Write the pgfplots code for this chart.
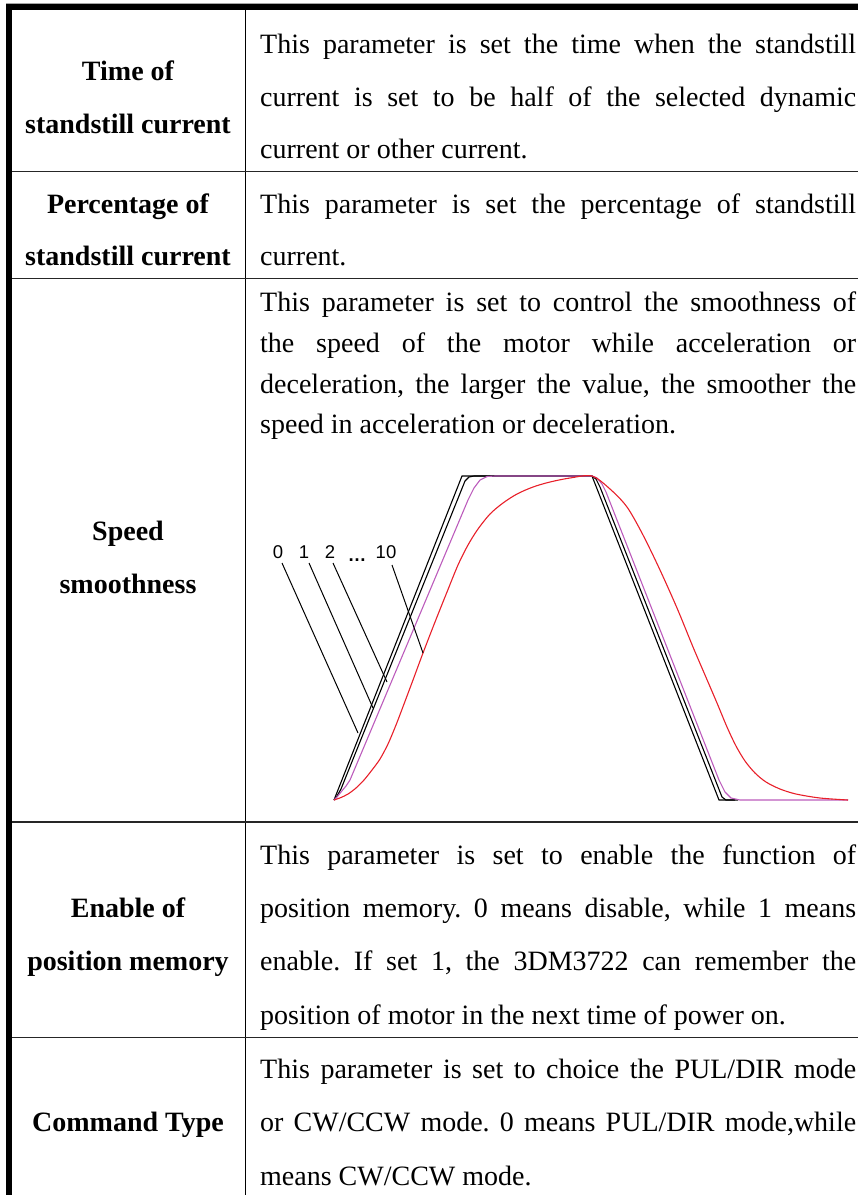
\documentclass[border=0pt]{standalone}
\usepackage{fontspec}
\setmainfont{Liberation Serif}
\newfontfamily\sansf{Liberation Sans}
\usepackage{pgfplots}
\pgfplotsset{compat=1.18}
\definecolor{curvered}{HTML}{E8202A}
\definecolor{curvepurple}{HTML}{BC5CBC}
\frenchspacing
\newcommand{\J}[1]{\makebox[596pt][s]{#1}}
\tikzset{body/.style={anchor=base west, inner sep=0pt, font=\fontsize{28}{28}\selectfont},
         head/.style={anchor=base, inner sep=0pt, font=\fontsize{28}{28}\selectfont\bfseries},
         lab/.style={anchor=base, inner sep=0pt, font=\sansf\fontsize{18.5}{18.5}\selectfont}}
\begin{document}
\begin{tikzpicture}
\begin{axis}[hide axis, scale only axis, width=858pt, height=1195pt,
  xmin=0, xmax=858, ymin=0, ymax=1195, y dir=reverse, clip=false,
  anchor=south west, at={(0,0)}]
% ---- table rules ----
\draw[black!35, line width=1pt] (axis cs:6,3) -- (axis cs:858,3);
\draw[black, line width=6pt] (axis cs:6,7) -- (axis cs:858,7);
\draw[black, line width=6pt] (axis cs:9,4) -- (axis cs:9,1200);
\draw[black, line width=1.3pt] (axis cs:245.3,10) -- (axis cs:245.3,1200);
\draw[black!85, line width=1.5pt] (axis cs:12,171.7) -- (axis cs:858,171.7);
\draw[black!85, line width=1.5pt] (axis cs:12,278.5) -- (axis cs:858,278.5);
\draw[black!85, line width=1.5pt] (axis cs:12,822) -- (axis cs:858,822);
\draw[black!85, line width=1.5pt] (axis cs:12,1037.3) -- (axis cs:858,1037.3);
% ---- speed curves ----
% 0
\addplot[black, line width=1.1pt] coordinates {(334,800) (462,476) (592,476) (719,800) (735,800)};
% 1
\addplot[black, line width=1.1pt] coordinates {(334,800) (337,796) (341,789) (465,481) (469,477) (474,476) (592,476) (596,479) (600,487) (722,797) (726,800) (738,800)};
% 2
\addplot[curvepurple, line width=1.1pt] coordinates {(334,800) (337,797) (341,792) (346,786) (350,780) (468,500) (474,488) (480,480) (487,476.5) (495,476) (592,476) (597,478) (602,484) (606,492) (719,780) (725,792) (731,798) (740,800) (848,800)};
% 10
\addplot[curvered, line width=1.1pt, smooth, tension=0.5] coordinates {(334,800) (341,797.5) (348,794) (356,788) (364,780) (372,770) (380,759) (388,744) (396,725) (404,704) (413,680) (423,653) (435,622) (447,592) (458,565) (468,545) (478,529) (490,514) (503,503) (517,494) (533,487) (550,482) (570,478) (592,476) (610,489) (627,507) (643,535) (660,570) (677,608) (693,647) (705,675) (717,703) (727,727) (736,746) (745,761) (755,773) (766,782) (780,789) (796,794) (820,798) (848,800)};
% pointer lines
\addplot[black, line width=1pt] coordinates {(282,563) (358,733)};
\addplot[black, line width=1pt] coordinates {(309,563) (373,708)};
\addplot[black, line width=1pt] coordinates {(333,563) (387,682)};
\addplot[black, line width=1pt] coordinates {(392,565) (423,653)};
\node[lab] at (axis cs:278,558) {0};
\node[lab] at (axis cs:304,558) {1};
\node[lab] at (axis cs:330,558) {2};
\node[lab] at (axis cs:357,561) {\textbf{…}};
\node[lab] at (axis cs:386,558) {10};
% ---- left column ----
\node[head] at (axis cs:128,80) {Time of};
\node[head] at (axis cs:128,133.3) {standstill current};
\node[head] at (axis cs:128,213.3) {Percentage of};
\node[head] at (axis cs:128,265) {standstill current};
\node[head] at (axis cs:128,540) {Speed};
\node[head] at (axis cs:128,593.3) {smoothness};
\node[head] at (axis cs:128,917.3) {Enable of};
\node[head] at (axis cs:128,970.7) {position memory};
\node[head] at (axis cs:128,1131.7) {Command Type};
% ---- right column ----
\node[body] at (axis cs:260,53.3) {\J{This parameter is set the time when the standstill}};
\node[body] at (axis cs:260,106) {\J{current is set to be half of the selected dynamic}};
\node[body] at (axis cs:260,158.3) {current or other current.};
\node[body] at (axis cs:260,213.3) {\J{This parameter is set the percentage of standstill}};
\node[body] at (axis cs:260,265) {current.};
\node[body] at (axis cs:260,311.7) {\J{This parameter is set to control the smoothness of}};
\node[body] at (axis cs:260,352.7) {\J{the speed of the motor while acceleration or}};
\node[body] at (axis cs:260,393.3) {\J{deceleration, the larger the value, the smoother the}};
\node[body] at (axis cs:260,433.3) {speed in acceleration or deceleration.};
\node[body] at (axis cs:260,864) {\J{This parameter is set to enable the function of}};
\node[body] at (axis cs:260,917.3) {\J{position memory. 0 means disable, while 1 means}};
\node[body] at (axis cs:260,970.7) {\J{enable. If set 1, the 3DM3722 can remember the}};
\node[body] at (axis cs:260,1024) {position of motor in the next time of power on.};
\node[body] at (axis cs:260,1078.3) {\J{This parameter is set to choice the PUL/DIR mode}};
\node[body] at (axis cs:260,1131.7) {\J{or CW/CCW mode. 0 means PUL/DIR mode,while}};
\node[body] at (axis cs:260,1185) {means CW/CCW mode.};
\end{axis}
\pgfresetboundingbox
\path (0,0) rectangle (858pt,1195pt);
\end{tikzpicture}
\end{document}
